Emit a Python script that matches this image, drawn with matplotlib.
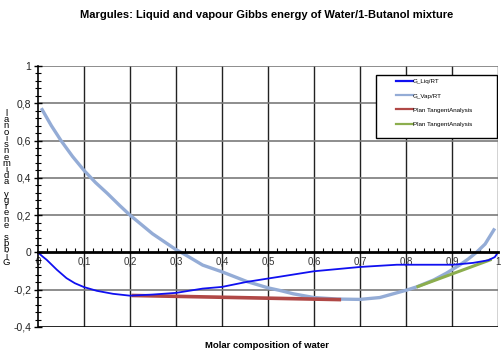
#!/usr/bin/env python3
"""
Margules model: liquid and vapour Gibbs energy of Water/1-Butanol mixture.
"""

import matplotlib
matplotlib.use('Agg')
import matplotlib.pyplot as plt
from matplotlib.patches import Rectangle
from matplotlib.ticker import MultipleLocator, FuncFormatter

# G_Liq/RT curve
liq_x = [0, 0.01, 0.019, 0.041, 0.062, 0.08, 0.1, 0.128, 0.163, 0.2, 0.249, 0.3,
         0.358, 0.4, 0.454, 0.5, 0.526, 0.6, 0.7, 0.78, 0.874, 0.903, 0.946, 0.979,
         0.993, 1.0]
liq_y = [0, -0.022, -0.04, -0.093, -0.138, -0.165, -0.186, -0.206, -0.222, -0.232,
         -0.226, -0.217, -0.194, -0.185, -0.158, -0.14, -0.13, -0.101, -0.078, -0.066,
         -0.066, -0.066, -0.056, -0.042, -0.025, 0]

# G_Vap/RT curve
vap_x = [0.009, 0.029, 0.05, 0.075, 0.1, 0.125, 0.151, 0.177, 0.2, 0.249, 0.3, 0.322,
         0.358, 0.4, 0.454, 0.5, 0.526, 0.555, 0.6, 0.65, 0.7, 0.743, 0.8, 0.823, 0.86,
         0.888, 0.917, 0.935, 0.953, 0.972, 0.991]
vap_y = [0.766, 0.68, 0.6, 0.515, 0.44, 0.375, 0.316, 0.253, 0.2, 0.1, 0.015, -0.015,
         -0.068, -0.104, -0.156, -0.19, -0.204, -0.222, -0.242, -0.25, -0.252, -0.242,
         -0.203, -0.185, -0.148, -0.111, -0.067, -0.036, 0.0, 0.045, 0.121]

# plane tangent segments
tan1_x = [0.207, 0.655]
tan1_y = [-0.231, -0.253]
tan2_x = [0.826, 0.983]
tan2_y = [-0.183, -0.04]

labels = ['G_Liq/RT', 'G_Vap/RT', 'Plan TangentAnalysis', 'Plan TangentAnalysis']
title = 'Margules: Liquid and vapour Gibbs energy of Water/1-Butanol mixture'
xlabel = 'Molar composition of water'
ylabel = 'Gibbs energy adimensional'


def comma(v, pos):
    return f"{v:g}".replace('.', ',')


def main():
    plt.rcParams['font.family'] = ['Liberation Sans', 'DejaVu Sans']

    fig = plt.figure(figsize=(5.02, 3.51), dpi=100)
    ax = fig.add_axes([38 / 502, 24 / 351, 460 / 502, 261 / 351])

    ax.set_xlim(0, 1)
    ax.set_ylim(-0.4, 1)

    # grid
    for gx in [i / 10 for i in range(1, 11)]:
        ax.axvline(gx, color='#222222', lw=1.0, zorder=1)
    for gy in [0.2, 0.4, 0.6, 0.8, 1.0, -0.2]:
        ax.axhline(gy, color='#7a7a7a', lw=1.2, zorder=1)
    ax.axhline(-0.4, color='black', lw=1.2, zorder=1)

    ax.plot(liq_x, liq_y, color='#1010f0', lw=1.3, label=labels[0], zorder=4)
    ax.plot(vap_x, vap_y, color='#94acd6', lw=2.4, label=labels[1], zorder=3)
    ax.plot(tan1_x, tan1_y, color='#b04846', lw=2.6, label=labels[2], zorder=3)
    ax.plot(tan2_x, tan2_y, color='#8cae4e', lw=2.2, label=labels[3], zorder=3)

    for s in ['top', 'right']:
        ax.spines[s].set_visible(False)
    ax.spines['bottom'].set_position(('data', 0))
    ax.spines['bottom'].set_linewidth(2.0)
    ax.spines['bottom'].set_zorder(5)
    ax.spines['left'].set_linewidth(1.2)

    ax.xaxis.set_major_locator(MultipleLocator(0.1))
    ax.xaxis.set_minor_locator(MultipleLocator(0.02))
    ax.yaxis.set_major_locator(MultipleLocator(0.2))
    ax.yaxis.set_minor_locator(MultipleLocator(0.04))
    ax.xaxis.set_major_formatter(FuncFormatter(comma))
    ax.yaxis.set_major_formatter(FuncFormatter(comma))

    ax.tick_params(axis='x', which='major', length=0, pad=3, labelsize=7,
                   labelcolor='#333333')
    ax.tick_params(axis='x', which='minor', direction='in', length=3, width=0.8)
    ax.tick_params(axis='y', which='major', direction='inout', length=6, width=1,
                   pad=2, labelsize=7.5, labelcolor='#222222')
    ax.tick_params(axis='y', which='minor', direction='inout', length=5, width=0.8)

    # legend box drawn separately so the entries can sit inset like the original
    box = Rectangle((0.735, 0.724), 0.263, 0.241, transform=ax.transAxes,
                    facecolor='white', edgecolor='black', lw=1.0, zorder=6)
    ax.add_patch(box)
    leg = ax.legend(loc='upper left', bbox_to_anchor=(0.778, 0.95),
                    borderaxespad=0, borderpad=0, fontsize=4.5, labelspacing=1.4,
                    handlelength=2.7, handletextpad=0.05, frameon=False)
    leg.set_zorder(7)
    for line in leg.get_lines():
        line.set_linewidth(1.6)

    fig.text(267 / 502, 1 - 15 / 351, title, ha='center', va='center',
             fontsize=8, fontweight='bold')
    fig.text(267 / 502, 1 - 345 / 351, xlabel, ha='center', va='center',
             fontsize=6.8, fontweight='bold')
    fig.text(6 / 502, 1 - 188 / 351, "\n".join(reversed(ylabel)), ha='center',
             va='center', fontsize=6.8, linespacing=0.6, color='black')

    fig.savefig('out.png', dpi=100)
    return 0


if __name__ == '__main__':
    main()
